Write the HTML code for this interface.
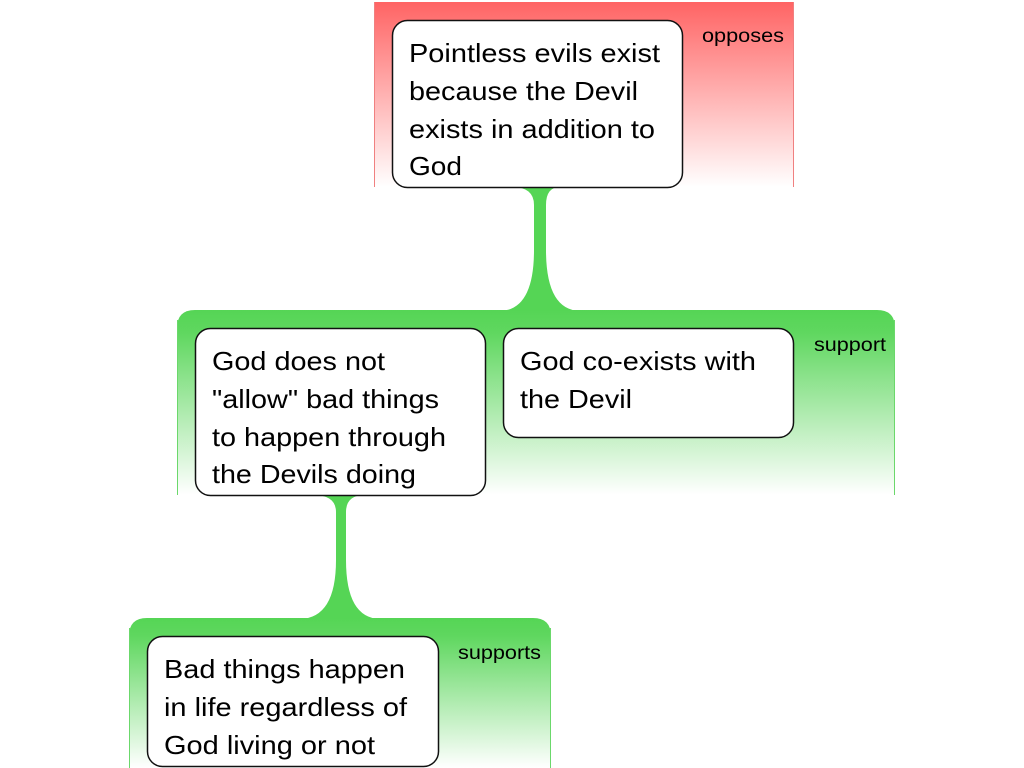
<!DOCTYPE html>
<html><head><meta charset="utf-8"><style>
html,body{margin:0;padding:0;background:#fff;width:1024px;height:768px;overflow:hidden}
svg{display:block}
text{font-family:"Liberation Sans",sans-serif;fill:#000}
.t{font-size:26px}
.l{font-size:19px}
</style></head><body>
<svg width="1024" height="768" viewBox="0 0 1024 768">
<defs>
<linearGradient id="r" x1="0" y1="0" x2="0" y2="1">
<stop offset="0" stop-color="#ff6464"/><stop offset="1" stop-color="#ffffff"/>
</linearGradient>
<linearGradient id="g" x1="0" y1="0" x2="0" y2="1">
<stop offset="0" stop-color="#55d555"/><stop offset="0.12" stop-color="#5fd75f"/><stop offset="1" stop-color="#ffffff"/>
</linearGradient>
</defs>
<rect x="374" y="2" width="420" height="185" fill="url(#r)"/>
<line x1="374.5" y1="2" x2="374.5" y2="187" stroke="#f08080" stroke-width="1"/>
<line x1="793.5" y1="2" x2="793.5" y2="187" stroke="#f08080" stroke-width="1"/>
<text class="l" x="702" y="42" textLength="82" lengthAdjust="spacingAndGlyphs">opposes</text>
<path d="M177,495 L177,328 Q177,310 195,310 L877,310 Q895,310 895,328 L895,495 Z" fill="url(#g)"/>
<line x1="177.5" y1="320" x2="177.5" y2="495" stroke="#6bd86b"/>
<line x1="894.5" y1="320" x2="894.5" y2="495" stroke="#6bd86b"/>
<text class="l" x="814" y="351" textLength="72" lengthAdjust="spacingAndGlyphs">support</text>
<path d="M129,768 L129,636 Q129,618 147,618 L533,618 Q551,618 551,636 L551,768 Z" fill="url(#g)"/>
<line x1="129.5" y1="628" x2="129.5" y2="768" stroke="#6bd86b"/>
<line x1="550.5" y1="628" x2="550.5" y2="768" stroke="#6bd86b"/>
<text class="l" x="458" y="659" textLength="83" lengthAdjust="spacingAndGlyphs">supports</text>
<path d="M512,187 Q534,187 534,205 L534,250 Q534,310 500,311 L580,311 Q546,310 546,250 L546,205 Q546,187 560,187 Z" fill="#55d555"/>
<path d="M313,495 Q336,495 336,512 L336,560 Q336,618 300,619 L380,619 Q346,618 346,560 L346,512 Q346,495 365,495 Z" fill="#55d555"/>
<rect x="392.5" y="20.5" width="290" height="167" rx="15" fill="#fff" stroke="#111" stroke-width="1.5"/>
<text class="t">
<tspan x="409" y="62" textLength="251" lengthAdjust="spacingAndGlyphs">Pointless evils exist</tspan>
<tspan x="409" y="100" textLength="229" lengthAdjust="spacingAndGlyphs">because the Devil</tspan>
<tspan x="409" y="138" textLength="246" lengthAdjust="spacingAndGlyphs">exists in addition to</tspan>
<tspan x="409" y="175" textLength="53" lengthAdjust="spacingAndGlyphs">God</tspan></text>
<rect x="195.5" y="328.5" width="290" height="167" rx="15" fill="#fff" stroke="#111" stroke-width="1.5"/>
<text class="t">
<tspan x="212" y="370" textLength="173" lengthAdjust="spacingAndGlyphs">God does not</tspan>
<tspan x="212" y="408" textLength="227" lengthAdjust="spacingAndGlyphs">"allow" bad things</tspan>
<tspan x="212" y="446" textLength="234" lengthAdjust="spacingAndGlyphs">to happen through</tspan>
<tspan x="212" y="483" textLength="204" lengthAdjust="spacingAndGlyphs">the Devils doing</tspan></text>
<rect x="503.5" y="328.5" width="290" height="109" rx="15" fill="#fff" stroke="#111" stroke-width="1.5"/>
<text class="t">
<tspan x="520" y="370" textLength="236" lengthAdjust="spacingAndGlyphs">God co-exists with</tspan>
<tspan x="520" y="408" textLength="112" lengthAdjust="spacingAndGlyphs">the Devil</tspan></text>
<rect x="147.5" y="636.5" width="291" height="130" rx="15" fill="#fff" stroke="#111" stroke-width="1.5"/>
<text class="t">
<tspan x="164" y="678" textLength="241" lengthAdjust="spacingAndGlyphs">Bad things happen</tspan>
<tspan x="164" y="716" textLength="243" lengthAdjust="spacingAndGlyphs">in life regardless of</tspan>
<tspan x="164" y="754" textLength="211" lengthAdjust="spacingAndGlyphs">God living or not</tspan></text>
</svg>
</body></html>
